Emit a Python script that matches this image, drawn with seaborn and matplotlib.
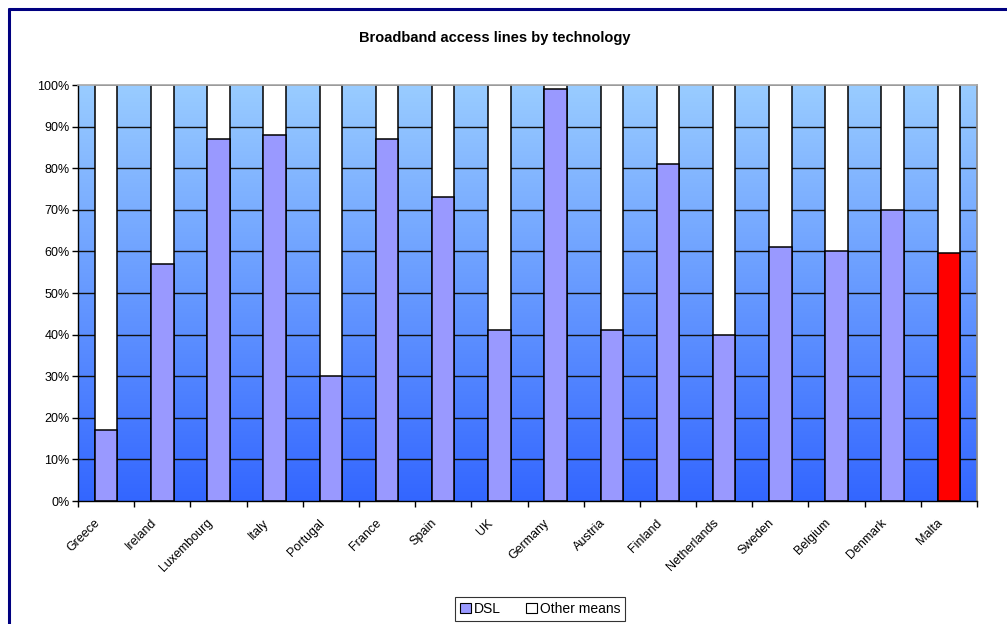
import numpy as np
import pandas as pd
import matplotlib
matplotlib.use("Agg")
import matplotlib.pyplot as plt
import matplotlib.transforms as mtransforms
from matplotlib.lines import Line2D
from matplotlib.patches import Patch
from matplotlib.colors import LinearSegmentedColormap
import seaborn as sns

countries = ["Greece", "Ireland", "Luxembourg", "Italy", "Portugal", "France",
             "Spain", "UK", "Germany", "Austria", "Finland", "Netherlands",
             "Sweden", "Belgium", "Denmark", "Malta"]
dsl_share = [17, 57, 87, 88, 30, 87, 73, 41, 99, 41, 81, 40, 61, 60, 70, 59.5]
other_share = [100 - v for v in dsl_share]
y_ticks = list(range(0, 101, 10))

df = pd.DataFrame({"country": countries, "DSL": dsl_share, "Other": other_share})
df["total"] = df["DSL"] + df["Other"]

sns.set_theme(style="white")
plt.rcParams["font.family"] = ["Liberation Sans", "DejaVu Sans"]
plt.rcParams["text.color"] = "black"

W, H = 1007, 624
fig = plt.figure(figsize=(W / 100, H / 100), dpi=100)
fig.patch.set_facecolor("white")

ax = fig.add_axes([78 / W, (H - 501) / H, (977 - 78) / W, (501 - 85) / H])

# vertical gradient plot background
grad = LinearSegmentedColormap.from_list("bg", ["#3366FF", "#99CCFF"])
ax.imshow(np.linspace(0, 1, 256).reshape(-1, 1), cmap=grad, aspect="auto",
          origin="lower", extent=[-0.5, len(countries) - 0.5, 0, 100], zorder=0)

# horizontal gridlines
for t in y_ticks[1:-1]:
    ax.axhline(t, color="#111111", lw=1.0, zorder=1)

bar_w = 0.4
# full-height bars: the upper white part is the "other means" share
sns.barplot(data=df, x="country", y="total", color="white", width=bar_w,
            edgecolor="black", linewidth=1.1, ax=ax, zorder=2, saturation=1)

dsl_colors = {c: ("#FF0000" if c == "Malta" else "#9999FF") for c in countries}
sns.barplot(data=df, x="country", y="DSL", hue="country", palette=dsl_colors,
            width=bar_w, edgecolor="black", linewidth=1.1, ax=ax, zorder=3,
            saturation=1, legend=False, dodge=False)

ax.set_xlim(-0.5, len(countries) - 0.5)
ax.set_ylim(0, 100)
ax.set_yticks(y_ticks)
ax.set_yticklabels([f"{t}%" for t in y_ticks], fontsize=9, color="black")

# category labels, rotated and slightly left of each bar centre
ax.set_xticks(range(len(countries)))
ax.set_xticklabels([])
label_tr = ax.get_xaxis_transform() + mtransforms.ScaledTranslation(
    -12 / 100, -16 / 100, fig.dpi_scale_trans)
for i, name in enumerate(countries):
    ax.text(i, 0, name, transform=label_tr, rotation=45, ha="right",
            va="top", rotation_mode="anchor", fontsize=9, color="black")

ax.set_xticks(np.arange(-0.5, len(countries) + 0.5, 1), minor=True)
ax.tick_params(axis="x", which="major", length=0)
ax.tick_params(axis="x", which="minor", length=4, width=1, color="black",
               direction="out", bottom=True)
ax.tick_params(axis="y", which="major", length=4, width=1, color="black",
               direction="out", left=True, pad=2)
ax.set_xlabel("")
ax.set_ylabel("")

for side in ["left", "bottom"]:
    ax.spines[side].set_color("black")
    ax.spines[side].set_linewidth(1.0)
ax.spines["top"].set_color("#AAAAAA")
ax.spines["right"].set_color("#888888")
for s in ax.spines.values():
    s.set_visible(True)
    s.set_zorder(4)

fig.text(495 / W, 1 - 38 / H, "Broadband access lines by technology",
         ha="center", va="center", fontsize=10.5, fontweight="bold",
         color="black")

handles = [Patch(facecolor="#9999FF", edgecolor="black", linewidth=0.8),
           Patch(facecolor="white", edgecolor="black", linewidth=0.8)]
leg = fig.legend(handles, ["DSL", "Other means"], loc="center",
                 bbox_to_anchor=(540 / W, 1 - 609 / H), ncol=2, fontsize=10,
                 frameon=True, fancybox=False, handlelength=0.8,
                 handleheight=0.8, handletextpad=0.2, columnspacing=1.8,
                 borderpad=0.35, labelcolor="black")
leg.get_frame().set_edgecolor("black")
leg.get_frame().set_linewidth(0.8)

# outer frame of the chart box
navy = "#000080"
fig.add_artist(Line2D([9 / W, 1.0], [1 - 9 / H, 1 - 9 / H], color=navy,
                      lw=2.2, transform=fig.transFigure))
fig.add_artist(Line2D([9 / W, 9 / W], [1 - 9 / H, 0.0], color=navy,
                      lw=2.2, transform=fig.transFigure))

fig.savefig("out.png", dpi=100)
